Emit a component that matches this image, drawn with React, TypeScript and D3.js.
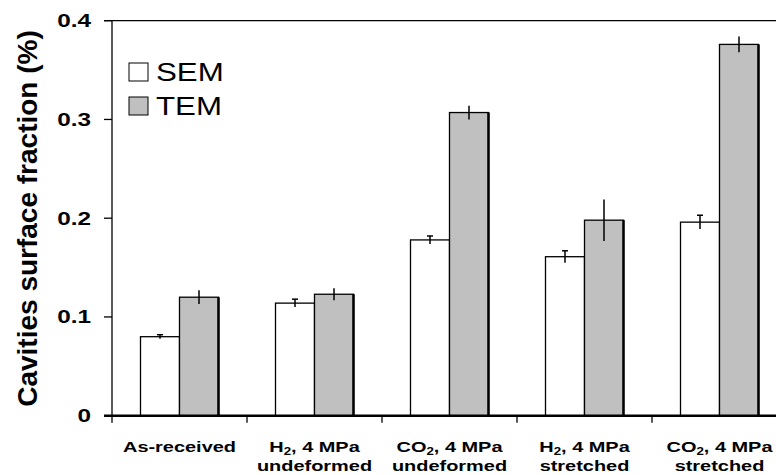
import { useEffect, useRef } from "react";
import * as d3 from "d3";

// category labels: first line split as [text, subscript, text]
const labelTop = [
  ["As-received", "", ""],
  ["H", "2", ", 4 MPa"],
  ["CO", "2", ", 4 MPa"],
  ["H", "2", ", 4 MPa"],
  ["CO", "2", ", 4 MPa"],
];
const labelBottom = ["", "undeformed", "undeformed", "stretched", "stretched"];
const categories = ["As-received", "H2 undeformed", "CO2 undeformed", "H2 stretched", "CO2 stretched"];

const series = ["SEM", "TEM"];
const semValues = [0.08, 0.114, 0.178, 0.161, 0.196];
const semErr = [0.002, 0.004, 0.004, 0.006, 0.007];
const temValues = [0.12, 0.123, 0.307, 0.198, 0.376];
const temErr = [0.007, 0.006, 0.007, 0.021, 0.008];
const yTicks = [0, 0.1, 0.2, 0.3, 0.4];

const FONT = "'Liberation Sans', Arial, sans-serif";

export default function App() {
  const svgRef = useRef<SVGSVGElement | null>(null);

  useEffect(() => {
    if (!svgRef.current) return;
    const svg = d3.select(svgRef.current);
    svg.selectAll("*").remove();

    const W = 776;
    const H = 475;
    const left = 112;
    const top = 20.7;
    const bottom = 415.7;

    const x0 = d3.scaleBand().domain(categories).range([left, left + 135 * 5]).padding(0);
    const x1 = d3.scaleBand().domain(series).range([28.5, 106.5]).padding(0);
    const y = d3.scaleLinear().domain([0, 0.4]).range([bottom, top]);

    svg.append("rect").attr("width", W).attr("height", H).attr("fill", "#fff");

    // top border
    svg.append("line")
      .attr("x1", 104).attr("x2", W).attr("y1", top).attr("y2", top)
      .attr("stroke", "#000").attr("stroke-width", 1.3);

    const groups = svg.selectAll("g.cat")
      .data(categories)
      .enter()
      .append("g")
      .attr("class", "cat")
      .attr("transform", (d) => `translate(${x0(d)},0)`);

    groups.each(function (_d, i) {
      const g = d3.select(this);
      const vals = [semValues[i], temValues[i]];
      const errs = [semErr[i], temErr[i]];
      series.forEach((s, j) => {
        const bx = x1(s)!;
        const bw = x1.bandwidth();
        const v = vals[j];
        g.append("rect")
          .attr("x", bx).attr("y", y(v))
          .attr("width", bw).attr("height", bottom - y(v))
          .attr("fill", j === 0 ? "#fff" : "#c0c0c0")
          .attr("stroke", "#000").attr("stroke-width", 1.3);
        if (j === 1) {
          g.append("line")
            .attr("x1", bx + bw).attr("x2", bx + bw)
            .attr("y1", y(v)).attr("y2", bottom)
            .attr("stroke", "#000").attr("stroke-width", 2.5);
        }
        const cx = bx + bw / 2;
        g.append("line")
          .attr("x1", cx).attr("x2", cx)
          .attr("y1", y(v + errs[j])).attr("y2", y(v - errs[j]))
          .attr("stroke", "#000").attr("stroke-width", 1.5);
        if (j === 0) {
          g.append("line")
            .attr("x1", cx - 3).attr("x2", cx + 3)
            .attr("y1", y(v + errs[j])).attr("y2", y(v + errs[j]))
            .attr("stroke", "#000").attr("stroke-width", 1.5);
        }
      });
    });

    // y axis
    svg.append("line")
      .attr("x1", left).attr("x2", left).attr("y1", top).attr("y2", bottom)
      .attr("stroke", "#000").attr("stroke-width", 1.3);
    yTicks.forEach((t) => {
      svg.append("line")
        .attr("x1", 104).attr("x2", left).attr("y1", y(t)).attr("y2", y(t))
        .attr("stroke", "#000").attr("stroke-width", 1.3);
      svg.append("text")
        .attr("transform", `translate(91,${y(t) + 6.5}) scale(1.35,1)`)
        .attr("text-anchor", "end")
        .attr("font-family", FONT)
        .attr("font-weight", "bold")
        .attr("font-size", 18)
        .attr("fill", "#000")
        .text(d3.format("")(t));
    });

    // x axis
    svg.append("line")
      .attr("x1", 104).attr("x2", W).attr("y1", bottom).attr("y2", bottom)
      .attr("stroke", "#000").attr("stroke-width", 2.5);
    categories.forEach((c) => {
      const tx = x0(c)!;
      svg.append("line")
        .attr("x1", tx).attr("x2", tx).attr("y1", bottom).attr("y2", bottom + 7)
        .attr("stroke", "#000").attr("stroke-width", 1.3);
    });

    categories.forEach((c, i) => {
      const cx = x0(c)! + x0.bandwidth() / 2;
      const t1 = svg.append("text")
        .attr("transform", `translate(${cx},452) scale(1.33,1)`)
        .attr("text-anchor", "middle")
        .attr("font-family", FONT)
        .attr("font-weight", "bold")
        .attr("font-size", 15)
        .attr("fill", "#000");
      const parts = labelTop[i];
      t1.append("tspan").text(parts[0]);
      if (parts[1]) {
        t1.append("tspan").attr("font-size", 10).attr("dy", 3).text(parts[1]);
        t1.append("tspan").attr("dy", -3).text(parts[2]);
      }
      if (labelBottom[i]) {
        svg.append("text")
          .attr("transform", `translate(${cx},471) scale(1.33,1)`)
          .attr("text-anchor", "middle")
          .attr("font-family", FONT)
          .attr("font-weight", "bold")
          .attr("font-size", 15)
          .attr("fill", "#000")
          .text(labelBottom[i]);
      }
    });

    // y title
    svg.append("text")
      .attr("transform", `translate(37,218.5) rotate(-90)`)
      .attr("text-anchor", "middle")
      .attr("font-family", FONT)
      .attr("font-weight", "bold")
      .attr("font-size", 28)
      .attr("fill", "#000")
      .text("Cavities surface fraction (%)");

    // legend
    const legend = svg.append("g").attr("transform", "translate(129,63)");
    series.forEach((s, j) => {
      const ly = j * 34;
      legend.append("rect")
        .attr("x", 0).attr("y", ly).attr("width", 19).attr("height", 18)
        .attr("fill", j === 0 ? "#fff" : "#c0c0c0")
        .attr("stroke", "#000").attr("stroke-width", 1);
      legend.append("text")
        .attr("transform", `translate(27,${ly + 18}) scale(1.25,1)`)
        .attr("font-family", FONT)
        .attr("font-size", 25)
        .attr("fill", "#000")
        .text(s);
    });
  }, []);

  return (
    <svg
      ref={svgRef}
      width={776}
      height={475}
      style={{ position: "absolute", left: 0, top: 0, display: "block" }}
    />
  );
}
